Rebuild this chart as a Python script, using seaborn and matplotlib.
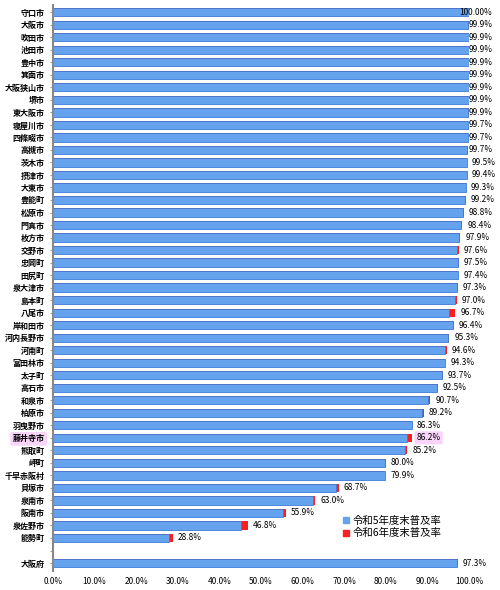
import numpy as np
import pandas as pd
import seaborn as sns
import matplotlib.pyplot as plt
from matplotlib.patches import Patch

# municipalities (top to bottom), blank row, then prefecture total
names = ['守口市', '大阪市', '吹田市', '池田市', '豊中市', '箕面市', '大阪狭山市', '堺市',
         '東大阪市', '寝屋川市', '四條畷市', '高槻市', '茨木市', '摂津市', '大東市', '豊能町',
         '松原市', '門真市', '枚方市', '交野市', '忠岡町', '田尻町', '泉大津市', '島本町',
         '八尾市', '岸和田市', '河内長野市', '河南町', '富田林市', '太子町', '高石市', '和泉市',
         '柏原市', '羽曳野市', '藤井寺市', '熊取町', '岬町', '千早赤阪村', '貝塚市', '泉南市',
         '阪南市', '泉佐野市', '能勢町', ' ', '大阪府']

# 令和6年度末普及率 (%)
r6 = [100.0, 99.9, 99.9, 99.9, 99.9, 99.9, 99.9, 99.9,
      99.9, 99.7, 99.7, 99.7, 99.5, 99.4, 99.3, 99.2,
      98.8, 98.4, 97.9, 97.6, 97.5, 97.4, 97.3, 97.0,
      96.7, 96.4, 95.3, 94.6, 94.3, 93.7, 92.5, 90.7,
      89.2, 86.3, 86.2, 85.2, 80.0, 79.9, 68.7, 63.0,
      55.9, 46.8, 28.8, np.nan, 97.3]

# increase during R6 (red part)
inc = [0.0, 0.05, 0.0, 0.0, 0.0, 0.0, 0.0, 0.0,
       0.05, 0.0, 0.0, 0.1, 0.1, 0.0, 0.1, 0.1,
       0.2, 0.4, 0.2, 0.5, 0.1, 0.1, 0.1, 0.3,
       1.6, 0.2, 0.3, 0.4, 0.0, 0.3, 0.2, 0.5,
       0.5, 0.0, 1.0, 0.6, 0.2, 0.2, 0.7, 0.4,
       0.7, 1.5, 0.9, np.nan, 0.2]

df = pd.DataFrame({'name': names, 'r6': r6, 'inc': inc})
df['r5'] = df['r6'] - df['inc']

plt.rcParams['font.family'] = ['Noto Sans CJK JP', 'DejaVu Sans']

BLUE = '#66A3EE'
RED = '#FF1E1E'

fig = plt.figure(figsize=(5, 5.9), dpi=100)
ax = fig.add_axes([0.106, 0.033, 0.832, 0.959])

sns.barplot(data=df, y='name', x='r6', order=names, color=RED, width=0.66,
            saturation=1, orient='h', ax=ax, edgecolor='none')
sns.barplot(data=df, y='name', x='r5', order=names, color=BLUE, width=0.66,
            saturation=1, orient='h', ax=ax, edgecolor='#3C7BD8', linewidth=0.6)

ax.set_xlim(0, 100)
ax.set_ylim(44.6, -0.6)
ax.set_xticks(np.arange(0, 101, 10))
ax.set_xticklabels([f'{t:.1f}%' for t in np.arange(0, 101, 10)], fontsize=6)
ax.set_xlabel('')
ax.set_ylabel('')
ax.tick_params(axis='x', length=0, pad=5)
ax.tick_params(axis='y', length=2, width=0.6, color='#888888', labelsize=5.8, pad=4)
for lab in ax.get_yticklabels():
    lab.set_fontweight('bold')
for s in ['top', 'right', 'bottom']:
    ax.spines[s].set_visible(False)
ax.spines['left'].set_color('#888888')
ax.spines['left'].set_linewidth(1.5)

# value labels
for i, row in df.iterrows():
    if np.isnan(row['r6']):
        continue
    txt = '100.00%' if row['r6'] >= 100 else f"{row['r6']:.1f}%"
    bb = None
    if row['name'] == '藤井寺市':
        bb = dict(boxstyle='round,pad=0.25', fc='#F9D4F9', ec='none')
    if row['r6'] > 99.5:
        ax.text(105.6, i, txt, ha='right', va='center', fontsize=6, clip_on=False)
    else:
        ax.text(row['r6'] + 1.2, i, txt, ha='left', va='center', fontsize=6,
                clip_on=False, bbox=bb)

# highlight 藤井寺市 tick label
for lab in ax.get_yticklabels():
    if lab.get_text() == '藤井寺市':
        lab.set_bbox(dict(boxstyle='round,pad=0.3', fc='#F9D4F9', ec='none'))

handles = [Patch(color=BLUE, label='令和5年度末普及率'),
           Patch(color=RED, label='令和6年度末普及率')]
fig.legend(handles=handles, loc='upper left', bbox_to_anchor=(0.677, 0.133),
           frameon=False, fontsize=7.5, handlelength=0.6, handleheight=0.6,
           handletextpad=0.4, labelspacing=0.25, borderaxespad=0)

fig.savefig('out.png', dpi=100)
